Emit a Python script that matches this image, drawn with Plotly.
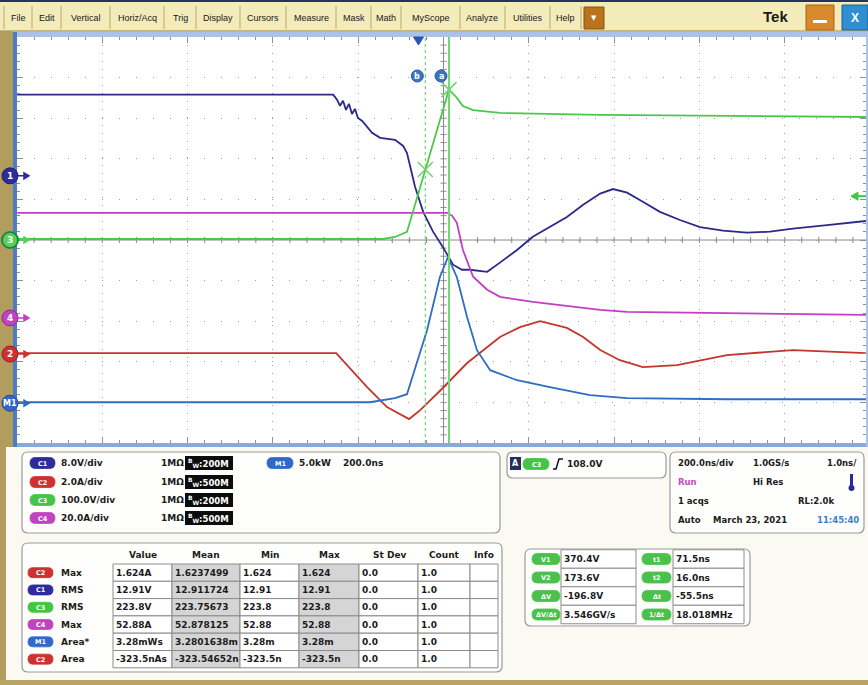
import plotly.graph_objects as go

W, H = 868, 685

# ===================== data =====================
# time axis: ns relative to the trigger point (200 ns/div)
c1_t = [-941, -200, -191, -184, -177, -170, -163, -156, -149, -142, -132, -121,
        -109, -90, -55, -36, -27, -8, 11, 34, 57, 81, 102, 121, 161, 191, 231,
        268, 308, 348, 386, 426, 456, 489, 526, 566, 613, 660, 714, 770, 824,
        878, 958, 1049]
c1_v = [16.0, 16.0, 15.0, 13.8, 14.8, 13.0, 14.2, 12.2, 13.2, 11.4, 10.8, 9.7,
        8.5, 7.5, 7.1, 5.9, 4.5, -2.2, -7.1, -11.0, -14.0, -17.5, -18.5, -18.5,
        -18.9, -17.1, -14.6, -12.0, -10.1, -8.1, -5.7, -3.5, -2.6, -3.3, -5.1,
        -7.1, -8.7, -10.1, -10.8, -11.2, -11.0, -10.4, -9.7, -8.9]

c2_t = [-941, -193, -121, -74, -22, 4, 57, 114, 191, 238, 285, 348, 386, 426,
        472, 526, 606, 723, 878, 1049]
c2_a = [0.05, 0.05, -1.62, -2.61, -3.20, -2.76, -1.67, -0.44, 0.84, 1.33, 1.62,
        1.29, 0.84, 0.20, -0.30, -0.64, -0.54, -0.05, 0.20, 0.05]

c3_t = [-941, -83, -55, -27, 71.5, 90, 104, 128, 191, 425, 1049]
c3_v = [2.5, 2.5, 7.4, 20.0, 370.4, 350.0, 330.0, 320.0, 313.0, 308.0, 303.0]

c4_t = [-941, 67, 79, 90, 104, 128, 161, 191, 268, 426, 489, 1049]
c4_a = [51.8, 51.8, 50.3, 46.9, 33.6, 20.3, 13.9, 10.4, 7.9, 4.0, 3.0, 1.5]

m1_t = [-941, -114, -55, -27, 20, 50, 69, 90, 114, 137, 168, 231, 308, 402,
        489, 723, 1049]
m1_kw = [0.12, 0.12, 0.62, 1.11, 8.99, 15.52, 17.98, 15.52, 10.59, 6.53, 4.07,
         2.83, 1.97, 0.99, 0.62, 0.49, 0.49]

# channel settings
ch_names = ["C1", "C2", "C3", "C4", "M1"]
ch_scale = [8.0, 2.0, 100.0, 20.0, 5.0]          # units / div
ch_offset = [1.58, -2.81, 0.0, -1.92, -4.02]     # ground marker (div)
ch_vdiv = ["8.0V/div", "2.0A/div", "100.0V/div", "20.0A/div"]
ch_bw = ["200M", "500M", "200M", "500M"]

trig_level_v = 108.0           # on C3
cursor_names = ["a", "b"]
cursor_t = [71.5, 16.0]
cursor_v = [370.4, 173.6]

meas_src = ["C2", "C1", "C3", "C4", "M1", "C2"]
meas_type = ["Max", "RMS", "RMS", "Max", "Area*", "Area"]
meas_value = ["1.624A", "12.91V", "223.8V", "52.88A", "3.28mWs", "-323.5nAs"]
meas_mean = ["1.6237499", "12.911724", "223.75673", "52.878125", "3.2801638m", "-323.54652n"]
meas_min = ["1.624", "12.91", "223.8", "52.88", "3.28m", "-323.5n"]
meas_max = ["1.624", "12.91", "223.8", "52.88", "3.28m", "-323.5n"]
meas_std = ["0.0", "0.0", "0.0", "0.0", "0.0", "0.0"]
meas_count = ["1.0", "1.0", "1.0", "1.0", "1.0", "1.0"]
meas_headers = ["Value", "Mean", "Min", "Max", "St Dev", "Count", "Info"]

cur_left_lbl = ["V1", "V2", "ΔV", "ΔV/Δt"]
cur_left_val = ["370.4V", "173.6V", "-196.8V", "3.546GV/s"]
cur_right_lbl = ["t1", "t2", "Δt", "1/Δt"]
cur_right_val = ["71.5ns", "16.0ns", "-55.5ns", "18.018MHz"]

menu_items = ["File", "Edit", "Vertical", "Horiz/Acq", "Trig", "Display", "Cursors",
              "Measure", "Mask", "Math", "MyScope", "Analyze", "Utilities", "Help"]

# ============================ styling / layout ============================
trace_colors = ["#2c2a88", "#c3362d", "#4ac84a", "#c23fc2", "#2f6cc4"]
pill_colors = ["#2e2c9c", "#cf3030", "#45c445", "#c044c0", "#3468c6"]
UI_FONT = "DejaVu Sans, Liberation Sans, Arial"
MENU_FONT = "Liberation Sans, Arial"

PLOT_L, PLOT_R, PLOT_T, PLOT_B = 17, 866, 37, 443
T_CENTER = 58.6
NS_PER_PX = 200.0 / 85.3
DIV_PER_PX = 10.0 / (PLOT_B - PLOT_T)
X_RANGE = [T_CENTER - 1000.0, T_CENTER - 1000.0 + (PLOT_R - PLOT_L) * NS_PER_PX]


def px(x):
    return x / W


def py(y):
    return 1 - y / H


shapes = []
annotations = []


def rect(x0, y0, x1, y1, fill, line=None, lw=0):
    shapes.append(dict(type="rect", xref="paper", yref="paper",
                       x0=px(x0), x1=px(x1), y0=py(y1), y1=py(y0),
                       fillcolor=fill, line=dict(color=line or fill, width=lw),
                       layer="above"))


def rrect_path(x0, y0, x1, y1, r):
    return (f"M{px(x0 + r)},{py(y0)} L{px(x1 - r)},{py(y0)} "
            f"Q{px(x1)},{py(y0)} {px(x1)},{py(y0 + r)} L{px(x1)},{py(y1 - r)} "
            f"Q{px(x1)},{py(y1)} {px(x1 - r)},{py(y1)} L{px(x0 + r)},{py(y1)} "
            f"Q{px(x0)},{py(y1)} {px(x0)},{py(y1 - r)} L{px(x0)},{py(y0 + r)} "
            f"Q{px(x0)},{py(y0)} {px(x0 + r)},{py(y0)} Z")


def rrect(x0, y0, x1, y1, r, fill, line, lw=1.2):
    shapes.append(dict(type="path", xref="paper", yref="paper",
                       path=rrect_path(x0, y0, x1, y1, r), fillcolor=fill,
                       line=dict(color=line, width=lw), layer="above"))


def text(x, y, s, size=9, color="#1b1b1b", anchor="left", bold=True, family=UI_FONT):
    annotations.append(dict(x=px(x), y=py(y), xref="paper", yref="paper", text=s,
                            showarrow=False, xanchor=anchor, yanchor="middle",
                            borderpad=0,
                            font=dict(size=size, color=color, family=family,
                                      weight="bold" if bold else "normal")))


def pill(x0, yc, w, h, fill, label):
    rrect(x0, yc - h / 2, x0 + w, yc + h / 2, h / 2, fill, fill, 0.8)
    text(x0 + w / 2, yc + 0.5, label, size=6.5, color="white", anchor="center")


# ---------------- window chrome ----------------
rect(0, 0, 868, 31, "#f3ebb9")
rect(0, 0, 868, 2, "#27335e")
rect(0, 30, 868, 32, "#c9b77a")
rect(0, 31, 13, 447, "#b29c5e")
rect(0, 447, 6, 685, "#b29c5e")
rect(0, 680, 868, 685, "#b8a463")

seps = [4, 32, 61, 110, 164, 196, 240, 286, 336, 371, 401, 460, 505, 550, 581]
for s in seps:
    shapes.append(dict(type="line", xref="paper", yref="paper", x0=px(s), x1=px(s),
                       y0=py(6), y1=py(29), line=dict(color="#b9a86a", width=1),
                       layer="above"))
for i, item in enumerate(menu_items):
    text((seps[i] + seps[i + 1]) / 2, 18, item, size=9, color="#202020",
         anchor="center", bold=False, family=MENU_FONT)
rect(584, 7, 604, 29, "#b9731c", "#8a5210", 1)
text(594, 18, "▼", size=7, color="white", anchor="center")
text(775, 17, "Tek", size=15, color="#1a1a1a", anchor="center", family="Liberation Sans")
rect(806, 5, 834, 30, "#d8892c", "#a86318", 1)
rect(813, 20, 827, 23, "#ffffff")
rect(842, 5, 868, 30, "#2e8fd2", "#1b5f9a", 1)
text(855, 18, "X", size=12, color="white", anchor="center", family="Liberation Sans")

# ---------------- plot frame ----------------
rect(13, 32, 868, 37, "#a9c2e6")
rect(13, 443, 868, 447, "#8aa8d8")
rect(13, 32, 17, 447, "#4d7cc6")
rect(866, 32, 868, 447, "#a9c2e6")

# ---------------- info panels ----------------
rrect(22, 452, 500, 533, 6, "#fefefc", "#9a9a9a")
rrect(507, 452, 666, 478, 6, "#fefefc", "#9a9a9a")
rrect(670, 452, 864, 533, 6, "#fefefc", "#9a9a9a")
rrect(22, 543, 502, 672, 6, "#fefefc", "#9a9a9a")
rrect(525, 549, 750, 626, 6, "#fefefc", "#9a9a9a")

# channel panel
ch_rows = [463, 482, 500, 518]
for i in range(4):
    yc = ch_rows[i]
    pill(30, yc, 25, 11, pill_colors[i], ch_names[i])
    text(60, yc, ch_vdiv[i])
    text(160, yc, "1MΩ")
    rect(185, yc - 7, 233, yc + 7, "#0c0c0c")
    text(187, yc, "<sup>B</sup><sub>W</sub>:" + ch_bw[i], size=8.5, color="white")
pill(267, 463, 26, 11, pill_colors[4], "M1")
text(298, 463, "5.0kW")
text(342, 463, "200.0ns")

# trigger panel
rect(510, 457, 521, 470, "#26305c")
text(515.5, 463.5, "A", size=8, color="white", anchor="center")
pill(523, 464, 26, 11, pill_colors[2], "C3")
shapes.append(dict(type="path", xref="paper", yref="paper",
                   path=f"M{px(553)},{py(469)} L{px(556)},{py(469)} L{px(559)},{py(459)} L{px(563)},{py(459)}",
                   line=dict(color="#111", width=1.5), layer="above"))
text(566, 464, f"{trig_level_v:.1f}V")

# horizontal panel
text(677, 463, "200.0ns/div", size=8.5)
text(752, 463, "1.0GS/s", size=8.5)
text(858, 463, "1.0ns/", size=8.5, anchor="right")
text(677, 482, "Run", size=8.5, color="#c64bc6")
text(752, 482, "Hi Res", size=8.5)
rect(850, 474, 853, 486, "#2c2a9a")
shapes.append(dict(type="circle", xref="paper", yref="paper", x0=px(848.5), x1=px(854.5),
                   y0=py(491), y1=py(485), fillcolor="#2c2a9a",
                   line=dict(color="#2c2a9a", width=0), layer="above"))
text(677, 501, "1 acqs", size=8.5)
text(835, 501, "RL:2.0k", size=8.5, anchor="right")
text(677, 520, "Auto", size=8.5)
text(712, 520, "March 23, 2021", size=8.5)
text(860, 520, "11:45:40", size=8.5, color="#3f7fc8", anchor="right")

# measurement table
col_x = [113, 172, 240, 299, 359, 418, 470, 498]
row_y = [564, 581.3, 598.6, 615.9, 633.2, 650.5, 667.8]
head_cx = [143, 206, 270, 329, 389, 444, 484]
for j, hname in enumerate(meas_headers):
    text(head_cx[j], 555, hname, size=9, anchor="center")
cols = [meas_value, meas_mean, meas_min, meas_max, meas_std, meas_count, None]
for j in range(7):
    fill = "#d5d5d5" if j in (1, 3) else "#ffffff"
    for r in range(6):
        rect(col_x[j], row_y[r], col_x[j + 1], row_y[r + 1], fill, "#8c8c8c", 1)
for r in range(6):
    yc = (row_y[r] + row_y[r + 1]) / 2
    idx = ch_names.index(meas_src[r])
    pill(28, yc, 25, 10, pill_colors[idx], meas_src[r])
    text(60, yc, meas_type[r], size=9)
    for j in range(6):
        text(col_x[j] + 2, yc, cols[j][r], size=9)

# cursor readout panel
cur_y = [559, 577.5, 596, 614.5]
for r in range(4):
    rect(561, cur_y[r] - 9.25, 636, cur_y[r] + 9.25, "#ffffff", "#8c8c8c", 1)
    rect(673, cur_y[r] - 9.25, 744, cur_y[r] + 9.25, "#ffffff", "#8c8c8c", 1)
    pill(532, cur_y[r], 28, 11, "#4cc04c", cur_left_lbl[r])
    pill(642, cur_y[r], 29, 11, "#4cc04c", cur_right_lbl[r])
    text(563, cur_y[r], cur_left_val[r], size=9)
    text(675, cur_y[r], cur_right_val[r], size=9)

# ---------------- plot decorations (graticule) ----------------
shapes.append(dict(type="line", xref="x", yref="y", x0=T_CENTER, x1=T_CENTER, y0=-5, y1=5,
                   line=dict(color="#8a8a8a", width=1), layer="below"))
shapes.append(dict(type="line", xref="x", yref="y", x0=X_RANGE[0], x1=X_RANGE[1], y0=0, y1=0,
                   line=dict(color="#8a8a8a", width=1), layer="below"))
for k in range(-25, 26):
    tt = T_CENTER + k * 40
    if X_RANGE[0] < tt < X_RANGE[1]:
        shapes.append(dict(type="line", xref="x", yref="y", x0=tt, x1=tt,
                           y0=-3 * DIV_PER_PX, y1=3 * DIV_PER_PX,
                           line=dict(color="#8a8a8a", width=1), layer="below"))
for k in range(-24, 25):
    yy = k * 0.2
    shapes.append(dict(type="line", xref="x", yref="y",
                       x0=T_CENTER - 3 * NS_PER_PX, x1=T_CENTER + 3 * NS_PER_PX,
                       y0=yy, y1=yy, line=dict(color="#8a8a8a", width=1), layer="below"))

# cursors
for name, ct, dash, lw in zip(cursor_names, cursor_t, ["solid", "dot"], [2, 1.2]):
    shapes.append(dict(type="line", xref="x", yref="paper", x0=ct, x1=ct,
                       y0=py(PLOT_B), y1=py(PLOT_T),
                       line=dict(color="#72d872", width=lw, dash=dash), layer="above"))
    shapes.append(dict(type="circle", xref="x", yref="paper",
                       x0=ct - 14 * NS_PER_PX, x1=ct - 2 * NS_PER_PX,
                       y0=py(82), y1=py(70), fillcolor="#3d72c2",
                       line=dict(color="#2a5aa8", width=1), layer="above"))
    annotations.append(dict(x=ct - 8 * NS_PER_PX, y=py(76), xref="x", yref="paper",
                            text=name, showarrow=False, xanchor="center", yanchor="middle",
                            font=dict(size=8, color="white", family=UI_FONT, weight="bold")))

# trigger position marker (top) and trigger level marker (right)
shapes.append(dict(type="path", xref="x", yref="paper",
                   path=f"M{-5 * NS_PER_PX},{py(37)} L{5 * NS_PER_PX},{py(37)} L0,{py(45)} Z",
                   fillcolor="#2a55b5", line=dict(color="#2a55b5", width=1), layer="above"))
tl = trig_level_v / ch_scale[2] + ch_offset[2]
shapes.append(dict(type="path", xref="paper", yref="y",
                   path=f"M{px(851)},{tl} L{px(858)},{tl + 4 * DIV_PER_PX} L{px(858)},{tl - 4 * DIV_PER_PX} Z",
                   fillcolor="#3cc83c", line=dict(color="#3cc83c", width=1), layer="above"))
shapes.append(dict(type="line", xref="paper", yref="y", x0=px(857), x1=px(866), y0=tl, y1=tl,
                   line=dict(color="#3cc83c", width=2), layer="above"))

# channel ground markers on the left
marker_labels = ["1", "2", "3", "4", "M1"]
marker_fill = ["#2e2c9c", "#cf3030", "#5ad05a", "#c044c0", "#3468c6"]
marker_line = ["#1d1b70", "#9a1d1d", "#1a8a3a", "#8f2a8f", "#204a96"]
for i in range(5):
    yc = ch_offset[i]
    r = 8 * DIV_PER_PX
    shapes.append(dict(type="path", xref="paper", yref="y",
                       path=f"M{px(18)},{yc} L{px(25)},{yc} M{px(24)},{yc + 3 * DIV_PER_PX} L{px(29)},{yc} L{px(24)},{yc - 3 * DIV_PER_PX} Z",
                       fillcolor=marker_fill[i], line=dict(color=marker_fill[i], width=1.5),
                       layer="above"))
    shapes.append(dict(type="circle", xref="paper", yref="y", x0=px(2), x1=px(18),
                       y0=yc - r, y1=yc + r, fillcolor=marker_fill[i],
                       line=dict(color=marker_line[i], width=2 if i == 2 else 1), layer="above"))
    annotations.append(dict(x=px(10), y=yc, xref="paper", yref="y", text=marker_labels[i],
                            showarrow=False, xanchor="center", yanchor="middle",
                            font=dict(size=8 if i == 4 else 9, color="white",
                                      family=UI_FONT, weight="bold")))

# ============================== figure ==============================
fig = go.Figure()
series = [(c1_t, c1_v, 0), (c2_t, c2_a, 1), (c4_t, c4_a, 3), (m1_t, m1_kw, 4), (c3_t, c3_v, 2)]
for t, v, i in series:
    fig.add_trace(go.Scatter(
        x=t, y=[val / ch_scale[i] + ch_offset[i] for val in v], mode="lines",
        line=dict(color=trace_colors[i], width=1.8), name=ch_names[i],
        hoverinfo="skip", cliponaxis=True))

fig.add_trace(go.Scatter(
    x=cursor_t, y=[v / ch_scale[2] + ch_offset[2] for v in cursor_v], mode="markers",
    marker=dict(symbol="x-thin", size=15, line=dict(color="#66d866", width=1.5)),
    hoverinfo="skip", name="cursors"))

fig.update_layout(
    width=W, height=H, autosize=False,
    margin=dict(l=0, r=0, t=0, b=0, pad=0),
    paper_bgcolor="#fafaf2", plot_bgcolor="#ffffff",
    showlegend=False,
    shapes=shapes, annotations=annotations,
    xaxis=dict(domain=[px(PLOT_L), px(PLOT_R)], range=X_RANGE, showticklabels=False,
               tick0=T_CENTER, dtick=200, ticks="inside", ticklen=6, tickcolor="#8f8f8f",
               showgrid=True, gridcolor="#9c9c9c", griddash="1px,7px", gridwidth=1,
               minor=dict(ticks="inside", ticklen=3, dtick=40, tick0=T_CENTER,
                          tickcolor="#8f8f8f", showgrid=False),
               zeroline=False, showline=True, linecolor="#b7c8e4", mirror="allticks",
               fixedrange=True),
    yaxis=dict(domain=[py(PLOT_B), py(PLOT_T)], range=[-5, 5], showticklabels=False,
               tick0=0, dtick=1, ticks="inside", ticklen=6, tickcolor="#8f8f8f",
               showgrid=True, gridcolor="#9c9c9c", griddash="1px,16px", gridwidth=1,
               minor=dict(ticks="inside", ticklen=3, dtick=0.2, tick0=0,
                          tickcolor="#8f8f8f", showgrid=False),
               zeroline=False, showline=True, linecolor="#b7c8e4", mirror="allticks",
               fixedrange=True),
)

fig.write_html(
    "out.html",
    config={"displayModeBar": False},
    post_script="document.body.style.margin='0';document.body.style.overflow='hidden';",
)
